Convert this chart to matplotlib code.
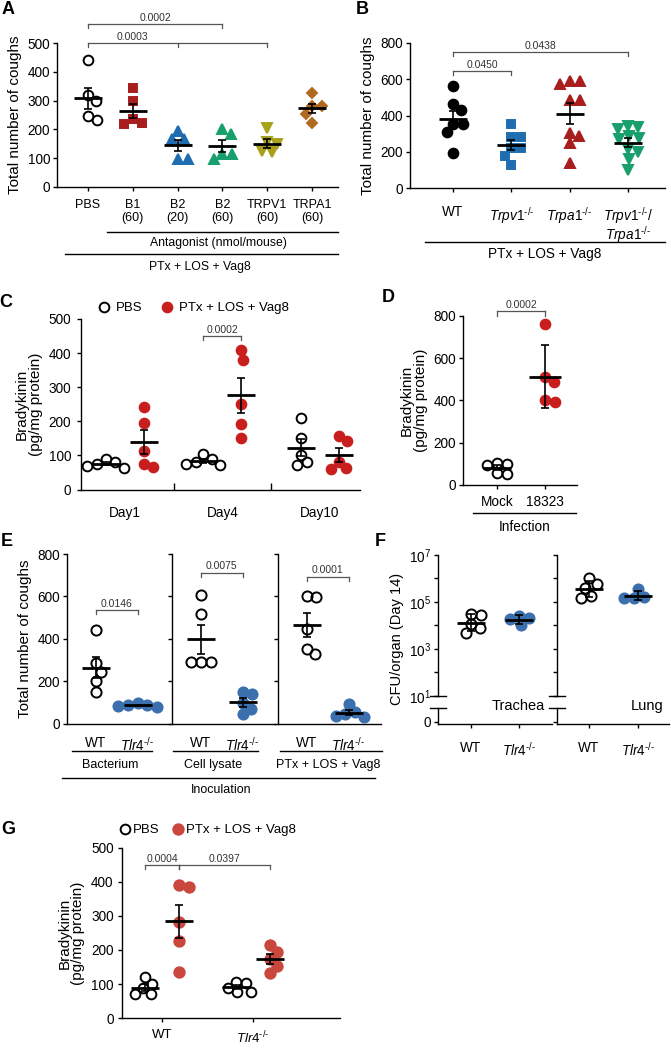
import numpy as np
import matplotlib
matplotlib.use('Agg')
import matplotlib.pyplot as plt
from matplotlib.lines import Line2D
from matplotlib.ticker import FixedLocator, FuncFormatter

plt.rcParams['font.family'] = ['Liberation Sans', 'DejaVu Sans']
plt.rcParams['mathtext.fontset'] = 'custom'
plt.rcParams['mathtext.rm'] = 'Liberation Sans'
plt.rcParams['mathtext.it'] = 'Liberation Sans:italic'
plt.rcParams['mathtext.bf'] = 'Liberation Sans:bold'
plt.rcParams['axes.linewidth'] = 1.0

HY = '\u2010'
SUP = r'^{\mathit{' + HY + '/' + HY + '}}'

# ------------------------------------------------------------------ data
A_labels = ['PBS', 'B1\n(60)', 'B2\n(20)', 'B2\n(60)', 'TRPV1\n(60)', 'TRPA1\n(60)']
A_PBS = [442, 320, 300, 245, 232]
A_B1 = [345, 298, 235, 222, 218]
A_B2_20 = [195, 167, 167, 98, 98]
A_B2_60 = [201, 184, 115, 115, 98]
A_TRPV1 = [205, 155, 150, 125, 120]
A_TRPA1 = [325, 282, 280, 255, 222]
A_pvals = ['0.0002', '0.0003']

B_labels = ['WT', r'$\mathit{Trpv1}' + SUP + '$', r'$\mathit{Trpa1}' + SUP + '$',
            r'$\mathit{Trpv1}' + SUP + r'\mathit{/}$' + '\n' + r'$\mathit{Trpa1}' + SUP + '$']
B_WT = [565, 432, 463, 355, 355, 309, 193]
B_Trpv1 = [355, 280, 280, 221, 221, 178, 125]
B_Trpa1 = [588, 588, 575, 487, 484, 303, 285, 248, 138]
B_double = [340, 335, 325, 285, 275, 270, 215, 200, 160, 100]
B_pvals = ['0.0450', '0.0438']

C_days = ['Day1', 'Day4', 'Day10']
C_PBS = [[88, 80, 74, 70, 64], [103, 90, 82, 76, 72], [209, 150, 102, 80, 72]]
C_PTx = [[243, 195, 114, 67, 75], [410, 381, 250, 192, 150], [157, 141, 80, 62, 60]]
C_pval = '0.0002'

D_labels = ['Mock', '18323']
D_Mock = [105, 100, 95, 55, 50]
D_18323 = [760, 512, 489, 402, 394]
D_pval = '0.0002'

E_sets = ['Bacterium', 'Cell lysate', 'PTx + LOS + Vag8']
E_WT = [[439, 285, 245, 201, 150], [608, 518, 288, 288, 288], [600, 595, 445, 329, 352]]
E_Tlr4 = [[95, 88, 85, 80, 82], [150, 140, 95, 70, 45], [90, 55, 45, 35, 30]]
E_pvals = ['0.0146', '0.0075', '0.0001']

F_organs = ['Trachea', 'Lung']
F_WT = [[3.0e4, 2.9e4, 4.6e3, 7.6e3, 1.1e4], [1.0e6, 1.5e5, 4.0e5, 5.6e5, 1.8e5]]
F_Tlr4 = [[2.6e4, 1.0e4, 2.0e4, 1.9e4], [1.4e5, 3.6e5, 1.4e5, 1.6e5]]

TLR4 = r'$\mathit{Tlr4}' + SUP + '$'
G_labels = ['WT', TLR4]
G_PBS = [[120, 100, 88, 72, 70], [107, 104, 90, 78, 78]]
G_PTx = [[390, 385, 283, 225, 136], [216, 195, 174, 154, 134]]
G_pvals = ['0.0004', '0.0397']

# ------------------------------------------------------------------ colors
RED_A = '#a81d1d'
BLUE_A = '#1f6cb0'
GREEN_A = '#17a06c'
OLIVE_A = '#a7a21a'
BROWN_A = '#b06a1f'
RED_C = '#c81e1e'
BLUE_E = '#3b6fad'
RED_G = '#c9473d'
GRAY = '#555555'

W, H = 671, 1049
fig = plt.figure(figsize=(W / 100, H / 100), dpi=100)


def add_ax(l, t, r, b):
    return fig.add_axes([l / W, 1 - b / H, (r - l) / W, (b - t) / H])


def set_xmap(ax, l, r, p0, step):
    ax.set_xlim((l - p0) / step, (r - p0) / step)


def scale(ax, logy=False):
    bb = ax.get_position()
    x0, x1 = ax.get_xlim()
    y0, y1 = ax.get_ylim()
    if logy:
        y0, y1 = np.log10(y0), np.log10(y1)
    return bb.width * W / (x1 - x0), bb.height * H / (y1 - y0)


def swarm(yp, diam):
    yp = np.asarray(yp, float)
    n = len(yp)
    xs = np.full(n, np.nan)
    for i in np.argsort(-yp, kind='stable'):
        cands = [0.0]
        for j in range(n):
            if np.isnan(xs[j]):
                continue
            dy = yp[i] - yp[j]
            if abs(dy) < diam:
                dx = np.sqrt(diam ** 2 - dy ** 2)
                cands += [xs[j] + dx, xs[j] - dx]
        cands.sort(key=abs)
        for c in cands:
            ok = all(np.isnan(xs[j]) or (c - xs[j]) ** 2 + (yp[i] - yp[j]) ** 2 >= diam ** 2 - 1e-6
                     for j in range(n))
            if ok:
                xs[i] = c
                break
    return xs


def dotplot(ax, pos, vals, marker='o', fc='none', ec='k', ms=7, mew=1.4, diam=10,
            hw=14, err='sem', logy=False, cap=3, label=None):
    vals = np.asarray(vals, float)
    ppx, ppy = scale(ax, logy)
    yv = np.log10(vals) if logy else vals
    offs = swarm(yv * ppy, diam) / ppx
    ax.plot(pos + offs, vals, linestyle='none', marker=marker, mfc=fc, mec=ec, ms=ms,
            mew=mew, zorder=3, clip_on=False, label=label)
    m = yv.mean()
    s = yv.std(ddof=1)
    e = s / np.sqrt(len(yv)) if err == 'sem' else s
    lo, hi = m - e, m + e
    if logy:
        m, lo, hi = 10 ** m, 10 ** lo, 10 ** hi
    ax.plot([pos - hw / ppx, pos + hw / ppx], [m, m], color='k', lw=2.0, zorder=5,
            solid_capstyle='butt')
    ax.errorbar([pos], [m], yerr=[[m - lo], [hi - m]], fmt='none', ecolor='k',
                elinewidth=1.2, capsize=cap, capthick=1.2, zorder=5)


def bracket(ax, xs, y, drop, text, fs=7.5, label_x=None):
    x0, x1 = min(xs), max(xs)
    ax.plot([x0, x1], [y, y], color=GRAY, lw=0.9, clip_on=False)
    for x in xs:
        ax.plot([x, x], [y, y - drop], color=GRAY, lw=0.9, clip_on=False)
    lx = (xs[0] + xs[1]) / 2 if label_x is None else label_x
    ax.text(lx, y + drop * 0.3, text, ha='center', va='bottom', fontsize=fs, color='#333333')


def hline(x0, x1, y, lw=1.0):
    fig.add_artist(Line2D([x0 / W, x1 / W], [1 - y / H, 1 - y / H], color='k', lw=lw))


def ftext(x, y, s, fs=9, **kw):
    fig.text(x / W, 1 - y / H, s, fontsize=fs, ha=kw.pop('ha', 'center'),
             va=kw.pop('va', 'center'), **kw)


def style(ax, left=True, bottom=True):
    for sp in ['top', 'right']:
        ax.spines[sp].set_visible(False)
    ax.spines['left'].set_visible(left)
    ax.spines['bottom'].set_visible(bottom)
    ax.tick_params(axis='both', direction='out', length=3, width=1.0, labelsize=9.8, pad=2)


# ------------------------------------------------------------------ panel A
axA = add_ax(57, 43, 338, 187)
axA.set_ylim(0, 500)
set_xmap(axA, 57, 338, 88, 44.8)
style(axA)
axA.set_yticks([0, 100, 200, 300, 400, 500])
axA.set_xticks(range(6))
axA.set_xticklabels(A_labels, fontsize=9, linespacing=1.05)
axA.tick_params(axis='x', pad=6)
A_series = [(A_PBS, 'o', 'none', 'k', 7), (A_B1, 's', RED_A, RED_A, 6.2),
            (A_B2_20, '^', BLUE_A, BLUE_A, 7.5), (A_B2_60, '^', GREEN_A, GREEN_A, 7.5),
            (A_TRPV1, 'v', OLIVE_A, OLIVE_A, 7.5), (A_TRPA1, 'D', BROWN_A, BROWN_A, 5.5)]
for i, (v, mk, fc, ec, ms) in enumerate(A_series):
    dotplot(axA, i, v, marker=mk, fc=fc, ec=ec, ms=ms)
bracket(axA, [0, 3], 566, 14, A_pvals[0])
bracket(axA, [0, 2, 4], 500, 14, A_pvals[1])
axA.set_ylabel('Total number of coughs', fontsize=11, labelpad=4)
hline(107, 338, 232)
ftext(218, 243, 'Antagonist (nmol/mouse)', fs=8.8)
hline(65, 338, 254)
ftext(200, 267, 'PTx + LOS + Vag8', fs=8.8)

# ------------------------------------------------------------------ panel B
axB = add_ax(410, 43, 665, 188)
axB.set_ylim(0, 800)
set_xmap(axB, 410, 665, 453, 58.3)
style(axB)
axB.set_yticks([0, 200, 400, 600, 800])
axB.set_xticks(range(4))
axB.set_xticklabels(B_labels, fontsize=9.8, linespacing=0.9, va='top')
axB.tick_params(axis='x', pad=9)
B_series = [(B_WT, 'o', 'k', 'k', 7), (B_Trpv1, 's', BLUE_A, BLUE_A, 6.2),
            (B_Trpa1, '^', RED_A, RED_A, 7.5), (B_double, 'v', GREEN_A, GREEN_A, 7.5)]
for i, (v, mk, fc, ec, ms) in enumerate(B_series):
    dotplot(axB, i, v, marker=mk, fc=fc, ec=ec, ms=ms)
bracket(axB, [0, 1], 645, 22, B_pvals[0])
bracket(axB, [0, 3], 750, 22, B_pvals[1], label_x=1.5)
axB.set_ylabel('Total number of coughs', fontsize=11, labelpad=4)
hline(425, 665, 242)
ftext(545, 254, 'PTx + LOS + Vag8', fs=9.8)

# ------------------------------------------------------------------ panel C
axC = add_ax(81, 319, 360, 489.5)
axC.set_ylim(0, 500)
set_xmap(axC, 81, 360, 125, 97.5)
style(axC)
axC.set_yticks([0, 100, 200, 300, 400, 500])
axC.set_xticks(range(3))
axC.set_xticklabels(C_days, fontsize=9.8)
axC.set_xticks([0.5, 1.5], minor=True)
axC.tick_params(axis='x', which='major', length=0, pad=12)
axC.tick_params(axis='x', which='minor', direction='in', length=5, width=1.0)
axC.tick_params(axis='y', pad=4)
for g in range(3):
    dotplot(axC, g - 0.2, C_PBS[g], marker='o', fc='none', ec='k', ms=7,
            label='PBS' if g == 0 else None)
    dotplot(axC, g + 0.19, C_PTx[g], marker='o', fc=RED_C, ec=RED_C, ms=7,
            label='PTx + LOS + Vag8' if g == 0 else None)
bracket(axC, [0.8, 1.19], 450, 12, C_pval)
axC.set_ylabel('Bradykinin\n(pg/mg protein)', fontsize=11, labelpad=4, linespacing=1.0)
axC.legend(loc='center', bbox_to_anchor=(193 / W, 1 - 308 / H), bbox_transform=fig.transFigure,
           ncol=2, frameon=False, fontsize=9.5, handletextpad=0.4, columnspacing=1.4,
           handlelength=1.0, borderpad=0)

# ------------------------------------------------------------------ panel D
axD = add_ax(463, 315.7, 577, 485)
axD.set_ylim(0, 800)
set_xmap(axD, 463, 577, 497, 48)
style(axD)
axD.set_yticks([0, 200, 400, 600, 800])
axD.set_xticks(range(2))
axD.set_xticklabels(D_labels, fontsize=9.8)
axD.tick_params(axis='x', pad=4)
dotplot(axD, 0, D_Mock, marker='o', fc='none', ec='k', ms=7)
dotplot(axD, 1, D_18323, marker='o', fc=RED_C, ec=RED_C, ms=7, err='sd', hw=16)
bracket(axD, [0, 1], 820, 20, D_pval)
axD.set_ylabel('Bradykinin\n(pg/mg protein)', fontsize=11, labelpad=4, linespacing=1.0)
hline(473, 576, 513)
ftext(525, 527, 'Infection', fs=9.8)

# ------------------------------------------------------------------ panel E
E_left = [67, 172, 278]
for k in range(3):
    l = E_left[k]
    ax = add_ax(l, 554, l + 103, 723.5)
    ax.set_ylim(0, 800)
    set_xmap(ax, l, l + 103, l + 28.5, 42)
    style(ax)
    ax.set_yticks([0, 200, 400, 600, 800])
    if k > 0:
        ax.set_yticklabels([])
    else:
        ax.set_ylabel('Total number of coughs', fontsize=11, labelpad=4)
    ax.set_xticks(range(2))
    ax.set_xticklabels(['WT', TLR4], fontsize=9.8)
    ax.tick_params(axis='x', length=0, pad=9)
    dotplot(ax, 0, E_WT[k], marker='o', fc='none', ec='k', ms=7.3)
    dotplot(ax, 1, E_Tlr4[k], marker='o', fc=BLUE_E, ec=BLUE_E, ms=7.3)
    ytop = [536, 712, 693][k]
    bracket(ax, [0, 1], ytop, 20, E_pvals[k])
E_centers = [110, 213, 328]
hline(72, 152, 751)
hline(173, 258, 751)
hline(280, 382, 751)
for c, s in zip(E_centers, E_sets):
    ftext(c, 765, s, fs=9)
hline(62, 375, 778)
ftext(221, 790, 'Inoculation', fs=9)

# ------------------------------------------------------------------ panel F
F_geo = [(438, 552, 471, 48), (557, 669, 589, 49)]
for k in range(2):
    l, r, p0, st = F_geo[k]
    up = add_ax(l, 555, r, 695.7)
    up.set_yscale('log')
    up.set_ylim(10, 1e7)
    set_xmap(up, l, r, p0, st)
    style(up, bottom=False)
    up.yaxis.set_major_locator(FixedLocator([10.0 ** e for e in range(1, 8)]))
    up.yaxis.set_minor_locator(FixedLocator([]))
    if k == 0:
        up.yaxis.set_major_formatter(FuncFormatter(
            lambda v, p: r'$10^{%d}$' % round(np.log10(v)) if round(np.log10(v)) % 2 == 1 else ''))
        up.set_ylabel('CFU/organ (Day 14)', fontsize=10.5, labelpad=3)
        up.yaxis.set_label_coords(-0.3, 0.4)
    else:
        up.set_yticklabels([])
    up.set_xticks([])
    up.plot([-0.07, 0.07], [0, 0], transform=up.transAxes, color='k', lw=1.0, clip_on=False)
    dotplot(up, 0, F_WT[k], marker='o', fc='none', ec='k', ms=7.3, logy=True, err='sd')
    dotplot(up, 1, F_Tlr4[k], marker='o', fc=BLUE_E, ec=BLUE_E, ms=7.3, logy=True, err='sd')
    lo = add_ax(l, 708, r, 724)
    lo.set_ylim(-0.15, 1)
    set_xmap(lo, l, r, p0, st)
    style(lo)
    lo.set_yticks([0])
    lo.set_yticklabels(['0'] if k == 0 else [''])
    lo.set_xticks(range(2))
    lo.set_xticklabels(['WT', TLR4], fontsize=9.8)
    lo.tick_params(axis='x', pad=9)
    lo.plot([-0.07, 0.07], [1, 1], transform=lo.transAxes, color='k', lw=1.0, clip_on=False)
ftext(518, 706, F_organs[0], fs=10.5)
ftext(647, 706, F_organs[1], fs=10.5)

# ------------------------------------------------------------------ panel G
axG = add_ax(122, 847.5, 340, 1018.3)
axG.set_ylim(0, 500)
set_xmap(axG, 122, 340, 162, 91)
style(axG)
axG.set_yticks([0, 100, 200, 300, 400, 500])
axG.set_xticks(range(2))
axG.set_xticklabels(G_labels, fontsize=9.5)
axG.tick_params(axis='x', pad=5)
axG.tick_params(axis='y', pad=3)
for g in range(2):
    dotplot(axG, g - 0.187, G_PBS[g], marker='o', fc='none', ec='k', ms=7,
            label='PBS' if g == 0 else None)
    dotplot(axG, g + 0.187, G_PTx[g], marker='o', fc=RED_G, ec=RED_G, ms=7.5,
            label='PTx + LOS + Vag8' if g == 0 else None)
bracket(axG, [-0.187, 0.187], 448, 12, G_pvals[0])
bracket(axG, [0.187, 1.187], 448, 12, G_pvals[1])
axG.set_ylabel('Bradykinin\n(pg/mg protein)', fontsize=11, labelpad=4, linespacing=1.0)
axG.legend(loc='center', bbox_to_anchor=(208 / W, 1 - 830 / H), bbox_transform=fig.transFigure,
           ncol=2, frameon=False, fontsize=9.5, handletextpad=0.2, columnspacing=1.0,
           handlelength=0.8, borderpad=0)

# ------------------------------------------------------------------ panel letters
for s, x, y in [('A', 8, 9), ('B', 362, 9), ('C', 6, 302), ('D', 388, 298),
                ('E', 7, 542), ('F', 380, 541), ('G', 8, 829)]:
    ftext(x, y, s, fs=13, fontweight='bold')

fig.savefig('out.png', dpi=100)
